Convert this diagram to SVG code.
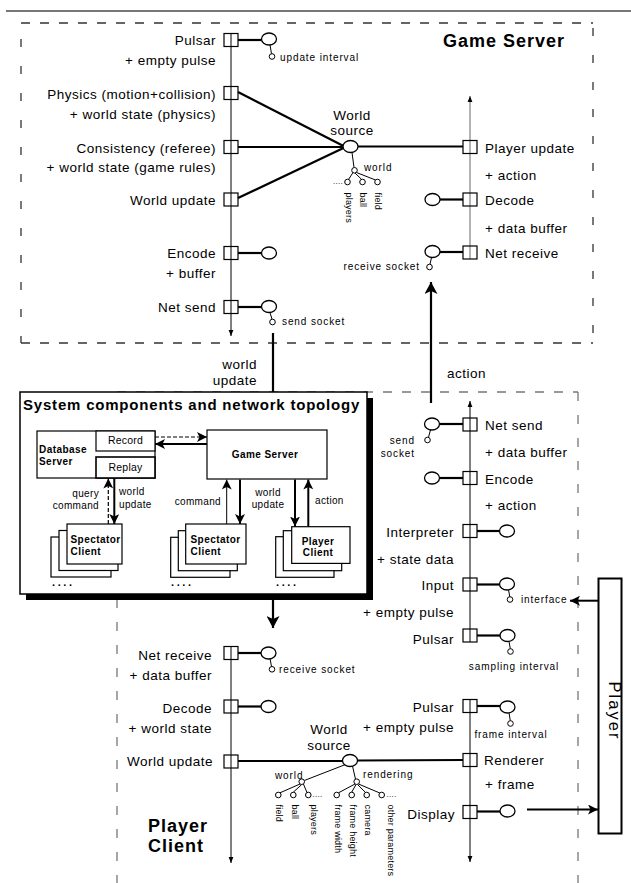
<svg xmlns="http://www.w3.org/2000/svg" width="631" height="883" viewBox="0 0 631 883">
<defs>
<style>
text { font-family: "Liberation Sans", Arial, Helvetica, sans-serif; fill:#000; }
.l { font-size:13.5px; letter-spacing:0.5px; }
.s { font-size:10px; letter-spacing:0.9px; }
.t { font-size:9px; letter-spacing:0.2px; }
.d { font-size:8px; letter-spacing:0.3px; }
.c { font-size:10px; letter-spacing:0.35px; }
.cr { font-size:10.5px; letter-spacing:0.2px; }
.cb { font-size:10px; font-weight:bold; letter-spacing:0.45px; }
.dots { font-size:11px; font-weight:bold; letter-spacing:2.6px; }
.h { font-size:18px; font-weight:bold; letter-spacing:1px; }
.st { font-size:15px; font-weight:bold; letter-spacing:0.8px; }
.e { text-anchor:end; }
.m { text-anchor:middle; }
.bx { fill:none; stroke:#000; stroke-width:1.2; }
.pt { fill:#fff; stroke:#000; stroke-width:1.3; }
.sp { fill:#fff; stroke:#000; stroke-width:1; }
.k { stroke:#000; stroke-width:2.2; fill:none; }
.n { stroke:#000; stroke-width:1; fill:none; }
.tl { stroke:#000; stroke-width:1; fill:none; marker-end:url(#ta); }
.ka { stroke:#000; stroke-width:2.2; fill:none; marker-end:url(#big); }
.ma { stroke:#000; stroke-width:2; fill:none; marker-end:url(#med); }
.mda { stroke:#000; stroke-width:1.2; fill:none; stroke-dasharray:4,2; marker-end:url(#med); }
.mna { stroke:#000; stroke-width:1; fill:none; marker-end:url(#med); }
.sb { fill:#fff; stroke:#000; stroke-width:1.2; }
.dh1 { stroke:#333; stroke-width:1.3; stroke-dasharray:9,10; }
.dv1 { stroke:#333; stroke-width:1.3; stroke-dasharray:8,19; }
.dh2 { stroke:#777; stroke-width:1.3; stroke-dasharray:9,10; }
.dv2 { stroke:#777; stroke-width:1.3; stroke-dasharray:9,14; }
</style>
<marker id="ta" markerUnits="userSpaceOnUse" viewBox="0 0 6 6" refX="6" refY="3" markerWidth="6" markerHeight="6" orient="auto"><path d="M0,0.6 L6,3 L0,5.4 z" fill="#000"/></marker>
<marker id="big" markerUnits="userSpaceOnUse" viewBox="0 0 12 13" refX="12" refY="6.5" markerWidth="12" markerHeight="13" orient="auto"><path d="M0,0 L12,6.5 L0,13 L3,6.5 z" fill="#000"/></marker>
<marker id="med" markerUnits="userSpaceOnUse" viewBox="0 0 10 10" refX="10" refY="5" markerWidth="10" markerHeight="10" orient="auto"><path d="M0,0 L10,5 L0,10 L2.5,5 z" fill="#000"/></marker>
</defs>
<rect width="631" height="883" fill="#fff"/>
<line x1="6" y1="11" x2="631" y2="11" stroke="#777" stroke-width="2"/>

<!-- Game Server frame -->
<g id="game-server-frame">
<line class="dh1" x1="21" y1="23" x2="593" y2="23"/>
<line class="dh1" x1="21" y1="343" x2="593" y2="343"/>
<line class="dv1" x1="21" y1="39" x2="21" y2="343"/>
<line class="dv1" x1="593" y1="28" x2="593" y2="343"/>
<text class="h" x="443" y="47">Game Server</text>
</g>

<!-- Player Client frame -->
<g id="player-client-frame">
<line class="dh2" x1="117" y1="392" x2="578" y2="392"/>
<line class="dv2" x1="117" y1="392" x2="117" y2="883"/>
<line class="dv2" x1="578" y1="392" x2="578" y2="883"/>
<text class="h" x="148" y="832">Player</text>
<text class="h" x="148" y="852">Client</text>
</g>

<g id="connectors">
<!-- game server -->
<line class="tl" x1="231" y1="33" x2="231" y2="336"/>
<line class="tl" style="stroke:#666" x1="470" y1="259" x2="470" y2="96"/>
<line class="k" x1="238" y1="40" x2="261.5" y2="40"/>
<line class="k" x1="238" y1="253" x2="261.5" y2="253"/>
<line class="k" x1="238" y1="307" x2="261.5" y2="307"/>
<line class="k" x1="440" y1="199.5" x2="463" y2="199.5"/>
<line class="k" x1="440" y1="252" x2="463" y2="252"/>
<line class="k" x1="238" y1="92" x2="343.5" y2="146"/>
<line class="k" x1="238" y1="147" x2="343" y2="147"/>
<line class="k" x1="238" y1="198" x2="343.5" y2="148"/>
<line class="k" x1="358" y1="146.5" x2="463" y2="146.5"/>
<line class="n" x1="270" y1="45" x2="271.5" y2="53.7"/>
<line class="n" x1="270" y1="312.5" x2="272" y2="319.2"/>
<line class="n" x1="431.5" y1="257.5" x2="430" y2="264.2"/>
<line class="n" x1="352" y1="152.5" x2="354" y2="167.5"/>
<line class="n" x1="353" y1="172.5" x2="348.5" y2="179.5"/>
<line class="n" x1="355" y1="173" x2="361.5" y2="179.3"/>
<line class="n" x1="356.5" y1="172.5" x2="375.5" y2="180"/>
<line class="k" x1="273" y1="333" x2="273" y2="392"/>
<line class="ka" x1="431" y1="403" x2="431" y2="282"/>
<!-- player client -->
<line class="tl" x1="231" y1="647" x2="231" y2="863"/>
<line class="tl" x1="470" y1="642" x2="470" y2="401"/>
<line class="tl" x1="470" y1="700" x2="470" y2="862"/>
<line class="k" x1="238" y1="653" x2="261" y2="653"/>
<line class="k" x1="238" y1="706.5" x2="261" y2="706.5"/>
<line class="k" x1="238" y1="761" x2="342.5" y2="761"/>
<line class="k" x1="357.5" y1="760.5" x2="463" y2="760"/>
<line class="k" x1="439.5" y1="424" x2="463" y2="424"/>
<line class="k" x1="439.5" y1="478" x2="463" y2="478"/>
<line class="k" x1="477" y1="531" x2="499.5" y2="531"/>
<line class="k" x1="477" y1="584.5" x2="499.5" y2="584.5"/>
<line class="k" x1="477" y1="635.5" x2="500" y2="635.5"/>
<line class="k" x1="477" y1="706" x2="500" y2="706"/>
<line class="k" x1="477" y1="811.5" x2="500" y2="811.5"/>
<line class="ma" x1="527" y1="809.5" x2="598" y2="809.5"/>
<line class="ma" x1="598" y1="600.7" x2="570" y2="600.7"/>
<line class="n" x1="270" y1="658.5" x2="271.5" y2="666.5"/>
<line class="n" x1="430.5" y1="429.8" x2="428.5" y2="437.3"/>
<line class="n" x1="508.5" y1="589.8" x2="509.8" y2="596.8"/>
<line class="n" x1="509" y1="641.3" x2="510.3" y2="648.8"/>
<line class="n" x1="509" y1="712.8" x2="510.3" y2="720.8"/>
<line class="n" x1="345.5" y1="764.5" x2="304.3" y2="780.5"/>
<line class="n" x1="352.5" y1="766" x2="355.5" y2="779.2"/>
<line class="n" x1="300" y1="784" x2="280" y2="792.8"/>
<line class="n" x1="301.7" y1="784.5" x2="293.3" y2="792.2"/>
<line class="n" x1="303.4" y1="784" x2="307" y2="792.5"/>
<line class="n" x1="355" y1="784" x2="338.5" y2="792.8"/>
<line class="n" x1="356" y1="784.5" x2="351.7" y2="792.2"/>
<line class="n" x1="357.5" y1="784.5" x2="365.5" y2="792.4"/>
<line class="n" x1="358.5" y1="784" x2="379.8" y2="793"/>
</g>

<!-- Game server nodes -->
<g id="gs-pulsar"><rect class="bx" x="224" y="33.5" width="14" height="13"/><text class="l e" x="216" y="45">Pulsar</text><text class="l e" x="216" y="65">+ empty pulse</text></g>
<g id="gs-pulsar-src"><ellipse class="pt" cx="269" cy="39" rx="7.5" ry="6"/><circle class="sp" cx="272" cy="56.5" r="2.8"/><text class="s" x="280" y="61">update interval</text></g>
<g id="gs-physics"><rect class="bx" x="224" y="86.5" width="14" height="13"/><text class="l e" x="216" y="99">Physics (motion+collision)</text><text class="l e" x="216" y="119">+ world state (physics)</text></g>
<g id="gs-consistency"><rect class="bx" x="224" y="140.5" width="14" height="13"/><text class="l e" x="216" y="153">Consistency (referee)</text><text class="l e" x="216" y="172">+ world state (game rules)</text></g>
<g id="gs-world-update"><rect class="bx" x="224" y="193" width="14" height="13"/><text class="l e" x="216" y="205">World update</text></g>
<g id="gs-encode"><rect class="bx" x="224" y="246.5" width="14" height="13"/><text class="l e" x="216" y="258">Encode</text><text class="l e" x="216" y="278">+ buffer</text></g>
<g id="gs-encode-src"><ellipse class="pt" cx="269" cy="253" rx="7.5" ry="6"/></g>
<g id="gs-net-send"><rect class="bx" x="224" y="300.5" width="14" height="13"/><text class="l e" x="216" y="312">Net send</text></g>
<g id="gs-send-socket"><ellipse class="pt" cx="269" cy="306.5" rx="7.5" ry="6"/><circle class="sp" cx="272.5" cy="322" r="2.8"/><text class="s" x="282" y="324.5">send socket</text></g>
<g id="gs-world-source"><ellipse class="pt" cx="350.5" cy="146.5" rx="7.5" ry="6"/><text class="l m" x="352" y="120">World</text><text class="l m" x="352" y="135">source</text>
<circle class="sp" cx="354.5" cy="170.3" r="2.8"/><text class="s" x="364" y="171">world</text>
<circle class="sp" cx="347.5" cy="182" r="2.8"/><circle class="sp" cx="362.5" cy="182" r="2.8"/><circle class="sp" cx="377.5" cy="182" r="2.8"/>
<text class="d" x="333" y="183.5">....</text>
<text class="t" transform="translate(345.5,192.5) rotate(90)">players</text>
<text class="t" transform="translate(360,192.5) rotate(90)">ball</text>
<text class="t" transform="translate(375,192.5) rotate(90)">field</text>
</g>
<g id="gs-player-update"><rect class="bx" x="463" y="140.5" width="14" height="13"/><text class="l" x="485" y="153">Player update</text><text class="l" x="485" y="180">+ action</text></g>
<g id="gs-decode"><rect class="bx" x="463" y="193" width="14" height="13"/><text class="l" x="485" y="205">Decode</text><text class="l" x="485" y="233">+ data buffer</text><ellipse class="pt" cx="432.5" cy="199.5" rx="7.5" ry="6"/></g>
<g id="gs-net-receive"><rect class="bx" x="463" y="246" width="14" height="13"/><text class="l" x="485" y="258">Net receive</text></g>
<g id="gs-receive-socket"><ellipse class="pt" cx="432.5" cy="251.5" rx="7.5" ry="6"/><circle class="sp" cx="429.5" cy="267" r="2.8"/><text class="s e" x="420" y="269.5">receive socket</text></g>
<g id="lbl-world-update"><text class="l e" x="257" y="369">world</text><text class="l e" x="257" y="385">update</text></g>
<g id="lbl-action"><text class="l" x="447" y="378">action</text></g>

<!-- Player client nodes (right upper) -->
<g id="pc-net-send"><rect class="bx" x="463" y="418" width="14" height="13"/><text class="l" x="485" y="430">Net send</text><text class="l" x="485" y="457">+ data buffer</text></g>
<g id="pc-send-socket"><ellipse class="pt" cx="432" cy="424" rx="7.5" ry="6"/><circle class="sp" cx="427.5" cy="440" r="2.8"/><text class="s e" x="415" y="443.5">send</text><text class="s e" x="415" y="457">socket</text></g>
<g id="pc-encode"><rect class="bx" x="463" y="471.5" width="14" height="13"/><text class="l" x="485" y="483.5">Encode</text><text class="l" x="485" y="510">+ action</text><ellipse class="pt" cx="432" cy="478" rx="7.5" ry="6"/></g>
<g id="pc-interpreter"><rect class="bx" x="463" y="524.5" width="14" height="13"/><text class="l e" x="454" y="537">Interpreter</text><text class="l e" x="454" y="563.5">+ state data</text><ellipse class="pt" cx="507" cy="531" rx="7.5" ry="6"/></g>
<g id="pc-input"><rect class="bx" x="463" y="578" width="14" height="13"/><text class="l e" x="454" y="590">Input</text><text class="l e" x="454" y="617">+ empty pulse</text></g>
<g id="pc-interface"><ellipse class="pt" cx="507" cy="584" rx="7.5" ry="6"/><circle class="sp" cx="510" cy="599.5" r="2.8"/><text class="s" x="521" y="602.5">interface</text></g>
<g id="pc-pulsar-in"><rect class="bx" x="463" y="629" width="14" height="13"/><text class="l e" x="454" y="643.5">Pulsar</text><ellipse class="pt" cx="507.5" cy="635.5" rx="7.5" ry="6"/><circle class="sp" cx="510.5" cy="651.5" r="2.8"/><text class="s m" x="514" y="669.5">sampling interval</text></g>

<!-- Player client nodes (left) -->
<g id="pc-net-receive"><rect class="bx" x="224" y="646.5" width="14" height="13"/><text class="l e" x="212" y="659.5">Net receive</text><text class="l e" x="212" y="679.5">+ data buffer</text></g>
<g id="pc-receive-socket"><ellipse class="pt" cx="268.5" cy="653" rx="7.5" ry="6"/><circle class="sp" cx="272" cy="669.3" r="2.8"/><text class="s" x="279" y="673">receive socket</text></g>
<g id="pc-decode"><rect class="bx" x="224" y="700" width="14" height="13"/><text class="l e" x="212" y="713">Decode</text><text class="l e" x="212" y="733">+ world state</text><ellipse class="pt" cx="268.5" cy="706.5" rx="7.5" ry="6"/></g>
<g id="pc-world-update"><rect class="bx" x="224" y="755" width="14" height="13"/><text class="l e" x="213" y="766">World update</text></g>

<!-- Player client nodes (right lower) -->
<g id="pc-pulsar-frame"><rect class="bx" x="463" y="699.5" width="14" height="13"/><text class="l e" x="454" y="712">Pulsar</text><text class="l e" x="454" y="732">+ empty pulse</text><ellipse class="pt" cx="507.5" cy="707" rx="7.5" ry="6"/><circle class="sp" cx="510.5" cy="723.5" r="2.8"/><text class="s m" x="511" y="738">frame interval</text></g>
<g id="pc-renderer"><rect class="bx" x="463" y="753.5" width="14" height="13"/><text class="l" x="484" y="765">Renderer</text><text class="l" x="485" y="788.5">+ frame</text></g>
<g id="pc-display"><rect class="bx" x="463" y="805.5" width="14" height="13"/><text class="l e" x="455" y="818.5">Display</text><ellipse class="pt" cx="507.5" cy="811" rx="7.5" ry="6"/></g>
<g id="pc-world-source"><ellipse class="pt" cx="350" cy="760.5" rx="7.5" ry="6"/><text class="l m" x="329" y="734">World</text><text class="l m" x="329" y="750">source</text>
<circle class="sp" cx="301.7" cy="781.7" r="2.8"/><text class="s" x="275" y="778.5">world</text>
<circle class="sp" cx="356.7" cy="781.7" r="2.8"/><text class="s" x="363" y="777.5">rendering</text>
<circle class="sp" cx="278.3" cy="795" r="2.8"/><circle class="sp" cx="293.3" cy="795" r="2.8"/><circle class="sp" cx="308.3" cy="795" r="2.8"/><text class="d" x="312.5" y="796.5">....</text>
<circle class="sp" cx="336.7" cy="795" r="2.8"/><circle class="sp" cx="351.7" cy="795" r="2.8"/><circle class="sp" cx="366.7" cy="795" r="2.8"/><circle class="sp" cx="381.7" cy="795" r="2.8"/><text class="d" x="386.5" y="796.5">....</text>
<text class="t" transform="translate(275.5,804.5) rotate(90)">field</text>
<text class="t" transform="translate(291.5,804.5) rotate(90)">ball</text>
<text class="t" transform="translate(311,804.5) rotate(90)">players</text>
<text class="t" transform="translate(334.5,804.5) rotate(90)">frame width</text>
<text class="t" transform="translate(350,804.5) rotate(90)">frame height</text>
<text class="t" transform="translate(364.5,804.5) rotate(90)">camera</text>
<text class="t" transform="translate(387.5,804.5) rotate(90)">other parameters</text>
</g>

<!-- Player actor -->
<g id="player"><rect x="598.5" y="578.5" width="23" height="255" fill="#fff" stroke="#000" stroke-width="2"/><text transform="translate(608.5,711) rotate(90)" text-anchor="middle" style="font-size:16.5px;letter-spacing:2px">Player</text></g>

<!-- System components box -->
<g id="system-components">
<rect x="26" y="398" width="347" height="202" fill="#000"/>
<rect x="20" y="392" width="347" height="202" fill="#fff" stroke="#000" stroke-width="1.5"/>
<text class="st" x="23" y="410">System components and network topology</text>
<g id="sys-database">
<rect class="sb" x="37" y="431" width="118" height="47"/>
<rect class="sb" x="96" y="431" width="59" height="20"/>
<rect class="sb" x="96" y="457" width="59" height="21" style="stroke-width:1.6"/>
<text class="cb" x="39" y="453">Database</text><text class="cb" x="39" y="465">Server</text>
<text class="cr m" x="125.5" y="444">Record</text><text class="cr m" x="125.5" y="471">Replay</text>
</g>
<g id="sys-game-server"><rect class="sb" x="207" y="430" width="120" height="49"/><text class="cb m" x="265" y="458">Game Server</text></g>
<g id="sys-spectator-1">
<rect class="sb" x="51" y="537" width="60" height="40"/><rect class="sb" x="59" y="530.5" width="59" height="40"/><rect class="sb" x="67" y="524" width="55" height="40"/>
<text class="cb" x="70.5" y="543">Spectator</text><text class="cb" x="70.5" y="555">Client</text><text class="dots" x="52" y="585.5">....</text>
</g>
<g id="sys-spectator-2">
<rect class="sb" x="170.7" y="537.3" width="59.3" height="40"/><rect class="sb" x="178.3" y="530.7" width="59" height="40"/><rect class="sb" x="185.7" y="524" width="60.3" height="40"/>
<text class="cb" x="190.5" y="543">Spectator</text><text class="cb" x="190.5" y="555">Client</text><text class="dots" x="171" y="585.5">....</text>
</g>
<g id="sys-player-client">
<rect class="sb" x="275.7" y="536.7" width="58.3" height="40.6"/><rect class="sb" x="283.3" y="530.7" width="58.4" height="40"/><rect class="sb" x="291.7" y="526.7" width="58.3" height="36.7"/>
<text class="cb m" x="318" y="544.5">Player</text><text class="cb m" x="318" y="556">Client</text><text class="dots" x="276" y="585.5">....</text>
</g>
<g id="sys-connectors">
<line class="mda" x1="155" y1="437" x2="207" y2="437"/>
<line class="ma" x1="207" y1="444" x2="155" y2="444"/>
<line class="mda" x1="108.3" y1="524" x2="108.3" y2="478.5"/>
<line class="ma" x1="114.3" y1="478.5" x2="114.3" y2="524"/>
<line class="mna" x1="226.7" y1="524" x2="226.7" y2="479.5"/>
<line class="ma" x1="240" y1="479.5" x2="240" y2="524"/>
<line class="ma" x1="295" y1="479.5" x2="295" y2="526.5"/>
<line class="ma" x1="308.3" y1="526.5" x2="308.3" y2="479.5"/>
</g>
<text class="c e" x="99" y="497">query</text><text class="c e" x="99" y="508.5">command</text>
<text class="c" x="119" y="495">world</text><text class="c" x="119" y="507.5">update</text>
<text class="c e" x="221" y="505">command</text>
<text class="c m" x="268" y="496">world</text><text class="c m" x="268" y="508">update</text>
<text class="c" x="315" y="504">action</text>
</g>
<g id="sys-out-arrow"><line class="ka" x1="273" y1="594" x2="273" y2="628"/></g>
</svg>
